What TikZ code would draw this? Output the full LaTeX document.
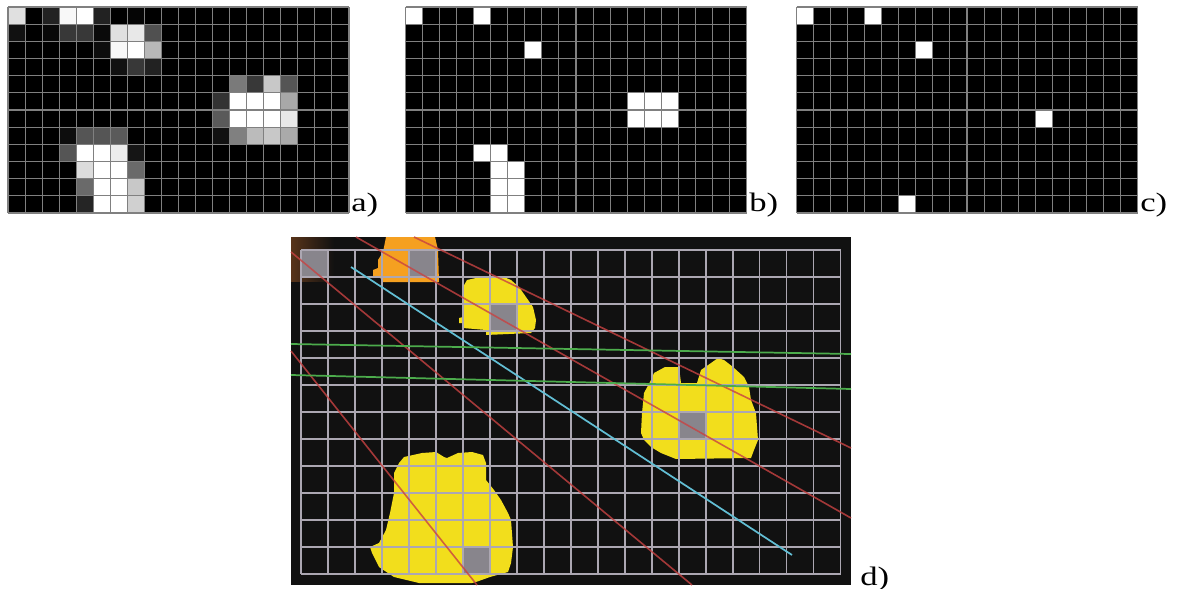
\documentclass[tikz,border=0pt]{standalone}
\usepackage{graphicx}
\usepackage{fontspec}
\setmainfont{Liberation Serif}
\definecolor{cellgray}{RGB}{128,128,128}
\definecolor{panelbg}{RGB}{17,17,17}
\definecolor{panelgrid}{RGB}{172,167,178}
\definecolor{markgray}{RGB}{136,133,140}
\definecolor{blobyellow}{RGB}{242,222,28}
\definecolor{bloborange}{RGB}{245,160,32}
\definecolor{cornerbrown}{RGB}{88,52,26}
\definecolor{trackred}{RGB}{200,66,66}
\definecolor{trackcyan}{RGB}{98,190,212}
\definecolor{trackgreen}{RGB}{76,172,76}
\newcommand\drawcellgrid{%
  \foreach \i in {0,...,20} \draw[cellline] (\i,0) -- (\i,12);
  \foreach \j in {0,...,12} \draw[cellline] (0,\j) -- (20,\j);}
\newcommand\panellabel[1]{\scalebox{1.3}[1]{#1}}
\begin{document}
\begin{tikzpicture}[x=0.75pt,y=-0.75pt,
  cellline/.style={draw=cellgray, line width=0.8pt},
  panelline/.style={draw=panelgrid, line width=1.1pt},
  lbl/.style={inner sep=0pt, anchor=base west, font=\fontsize{20}{22}\selectfont},
  redtrack/.style={draw=trackred, line width=1.2pt, opacity=0.8},
  cyantrack/.style={draw=trackcyan, line width=1.3pt},
  greentrack/.style={draw=trackgreen, line width=1.3pt}]
\useasboundingbox (0,0) rectangle (1178,589);

% ---- a) grey-level occupancy grid ----
\begin{scope}[shift={(8,7)}, x=12.7875pt, y=-12.875pt]
  \fill[black] (0,0) rectangle (20,12);
  \foreach \c/\r/\v in {0/0/224, 2/0/34, 3/0/248, 4/0/255, 5/0/34, 7/0/5,
      0/1/17, 2/1/8, 3/1/56, 4/1/56, 5/1/10, 6/1/224, 7/1/232, 8/1/80,
      5/2/13, 6/2/248, 7/2/255, 8/2/184,
      6/3/17, 7/3/56, 8/3/34,
      13/4/122, 14/4/56, 15/4/200, 16/4/85,
      12/5/51, 13/5/255, 14/5/255, 15/5/255, 16/5/168,
      12/6/90, 13/6/255, 14/6/255, 15/6/255, 16/6/232,
      3/7/13, 4/7/85, 5/7/85, 6/7/90, 12/7/17, 13/7/128, 14/7/187, 15/7/200, 16/7/170,
      3/8/85, 4/8/255, 5/8/255, 6/8/236, 7/8/21,
      4/9/220, 5/9/255, 6/9/255, 7/9/106,
      4/10/106, 5/10/255, 6/10/255, 7/10/200,
      4/11/37, 5/11/255, 6/11/255, 7/11/208}
    \fill[fill={rgb,255:red,\v;green,\v;blue,\v}] (\c,\r) rectangle ++(1,1);
  \drawcellgrid
\end{scope}
\node[lbl] (la) at (351,211) {\panellabel{a)}};

% ---- b) thresholded grid ----
\begin{scope}[shift={(405.5,7)}, x=12.7875pt, y=-12.875pt]
  \fill[black] (0,0) rectangle (20,12);
  \foreach \c/\r in {0/0, 4/0, 7/2, 13/5, 14/5, 15/5, 13/6, 14/6, 15/6,
      4/8, 5/8, 5/9, 6/9, 5/10, 6/10, 5/11, 6/11}
    \fill[white] (\c,\r) rectangle ++(1,1);
  \drawcellgrid
\end{scope}
\node[lbl] (lb) at (749,211) {\panellabel{b)}};

% ---- c) cluster centres ----
\begin{scope}[shift={(796.5,7)}, x=12.7875pt, y=-12.875pt]
  \fill[black] (0,0) rectangle (20,12);
  \foreach \c/\r in {0/0, 4/0, 7/2, 14/6, 6/11}
    \fill[white] (\c,\r) rectangle ++(1,1);
  \drawcellgrid
\end{scope}
\node[lbl] (lc) at (1140,211) {\panellabel{c)}};

% ---- d) camera view with fitted lines ----
\fill[panelbg] (291,237) rectangle (851,585);
\shade[left color=cornerbrown, right color=panelbg] (291,237) rectangle (334,281);
\fill[bloborange] (386,237) -- (435,237) -- (438,250) -- (439,282) -- (382,282)
  -- (380,277) -- (373,277) -- (373,270) -- (378,268) -- (378,260) -- (383,252) -- cycle;
\fill[blobyellow] (467,280) -- (476,278) -- (504,277) -- (511,280) -- (519,287)
  -- (526,297) -- (533,307) -- (536,320) -- (535,328) -- (531,333) -- (486,335)
  -- (486,330) -- (463,328) -- (463,323) -- (459,323) -- (459,318) -- (463,317)
  -- (463,287) -- cycle;
\fill[blobyellow] (651,380) -- (654,373) -- (665,367) -- (679,367) -- (681,383)
  -- (697,383) -- (701,370) -- (711,363) -- (718,358) -- (724,360) -- (733,367)
  -- (744,377) -- (749,387) -- (751,400) -- (756,413) -- (758,440) -- (754,450)
  -- (751,458) -- (676,459) -- (661,453) -- (651,447) -- (644,440) -- (641,433)
  -- (642,413) -- (644,393) -- cycle;
\fill[blobyellow] (404,457) -- (422,453) -- (436,452) -- (444,457) -- (447,458)
  -- (458,453) -- (472,452) -- (483,455) -- (486,463) -- (486,480) -- (494,490)
  -- (501,500) -- (508,513) -- (511,520) -- (513,547) -- (511,563) -- (508,572)
  -- (490,577) -- (476,582) -- (472,583) -- (419,583) -- (394,577) -- (379,567)
  -- (372,553) -- (370,547) -- (379,543) -- (386,530) -- (390,513) -- (394,493)
  -- (394,473) -- (399,463) -- cycle;
\begin{scope}[shift={(301,250)}, x=20.239pt, y=-20.25pt]
  \foreach \c/\r in {0/0, 4/0, 7/2, 14/6, 6/11}
    \fill[markgray] (\c,\r) rectangle ++(1,1);
  \foreach \i in {0,...,20} \draw[panelline] (\i,0) -- (\i,12);
  \foreach \j in {0,...,12} \draw[panelline] (0,\j) -- (20,\j);
\end{scope}
\draw[redtrack] (414,237) -- (851,448);
\draw[redtrack] (356,237) -- (851,518);
\draw[redtrack] (291,252) -- (692,585);
\draw[redtrack] (291,351) -- (477,585);
\draw[cyantrack] (351,267) -- (792,555);
\draw[greentrack] (291,344) -- (851,354);
\draw[greentrack] (291,375) -- (851,389);
\node[lbl] (ld) at (860,585) {\panellabel{d)}};
\end{tikzpicture}
\end{document}
